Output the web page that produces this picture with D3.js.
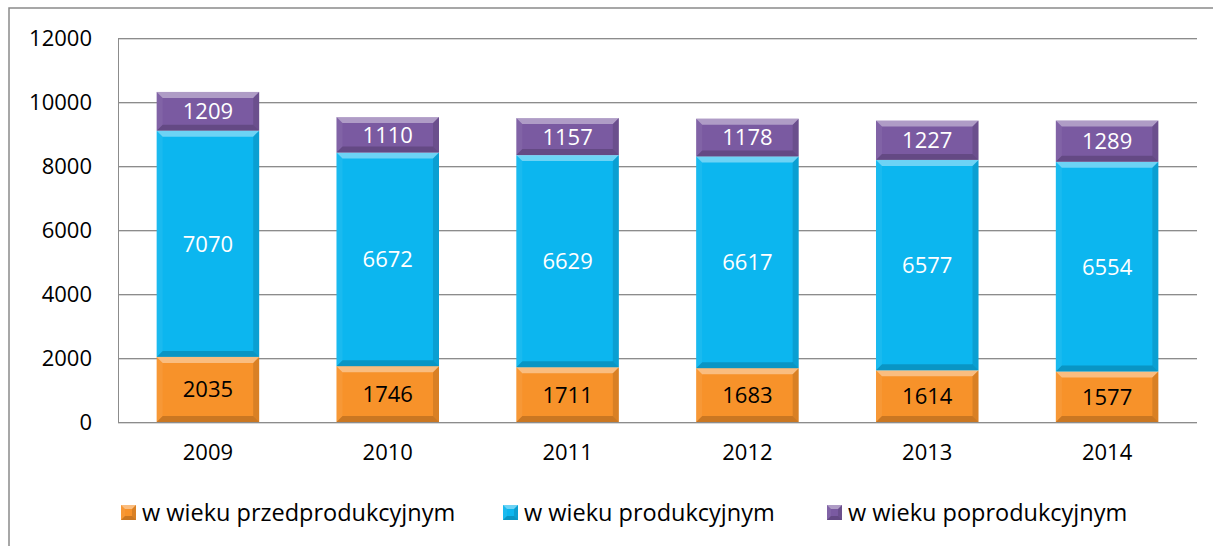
<!DOCTYPE html>
<html>
<head>
<meta charset="utf-8">
<script src="https://cdn.jsdelivr.net/npm/d3@7"></script>
<style>
  body { margin: 0; background: #fff; }
  text { font-family: "Open Sans", Lato, sans-serif; }
</style>
</head>
<body>
<div id="chart"></div>
<script>
var years = ['2009', '2010', '2011', '2012', '2013', '2014'];
var przedprod = [2035, 1746, 1711, 1683, 1614, 1577];
var prod = [7070, 6672, 6629, 6617, 6577, 6554];
var poprod = [1209, 1110, 1157, 1178, 1227, 1289];
var seriesNames = ['w wieku przedprodukcyjnym', 'w wieku produkcyjnym', 'w wieku poprodukcyjnym'];
var yTicks = [0, 2000, 4000, 6000, 8000, 10000, 12000];

var colors = ['#f7922a', '#0cb6ef', '#7a5aa1'];
var labelColors = ['#000', '#fff', '#fff'];
var legendX = [121, 503, 827];

// build rows for d3.stack
var keys = ['a', 'b', 'c'];
var rows = years.map(function (y, i) {
    return { year: y, a: przedprod[i], b: prod[i], c: poprod[i] };
});
var stacked = d3.stack().keys(keys)(rows);

var W = 1213, H = 546;
var margin = { top: 38, right: 16, bottom: 124, left: 118 },
    width = W - margin.left - margin.right,
    height = H - margin.top - margin.bottom;

var svg = d3.select('#chart').append('svg')
    .attr('width', W)
    .attr('height', H);

// outer chart border
svg.append('rect')
    .attr('x', 9).attr('y', 8)
    .attr('width', W + 10).attr('height', H + 10)
    .attr('fill', 'none')
    .attr('stroke', '#8a8a8a')
    .attr('stroke-width', 1.5);

var g = svg.append('g')
    .attr('transform', 'translate(' + margin.left + ',' + margin.top + ')');

var xScale = d3.scaleBand()
    .domain(years)
    .range([0, width])
    .paddingInner(0.43)
    .paddingOuter(0.215);

var yScale = d3.scaleLinear()
    .domain([0, 12000])
    .range([height, 0]);

// gridlines with a faint shadow line
yTicks.forEach(function (t) {
    var y = Math.round(yScale(t)) + 0.5;
    g.append('line')
        .attr('x1', 0).attr('x2', width)
        .attr('y1', y + 1).attr('y2', y + 1)
        .attr('stroke', '#d8d8d8');
    g.append('line')
        .attr('x1', 0).attr('x2', width)
        .attr('y1', y).attr('y2', y)
        .attr('stroke', '#8c8c8c');
});

// left axis line
g.append('line')
    .attr('x1', 0.5).attr('x2', 0.5)
    .attr('y1', 0).attr('y2', height)
    .attr('stroke', '#8c8c8c');

// y axis labels
var yAxis = d3.axisLeft(yScale).tickValues(yTicks).tickFormat(d3.format('d'))
    .tickSize(0).tickPadding(26);
var yg = g.append('g').call(yAxis);
yg.select('.domain').remove();
yg.selectAll('text')
    .attr('font-size', 22)
    .attr('fill', '#000')
    .style('font-family', '"Open Sans", sans-serif');

// x axis labels
var xAxis = d3.axisBottom(xScale).tickSize(0).tickPadding(22);
var xg = g.append('g')
    .attr('transform', 'translate(0,' + height + ')')
    .call(xAxis);
xg.select('.domain').remove();
xg.selectAll('text')
    .attr('font-size', 22)
    .attr('fill', '#000')
    .style('font-family', '"Open Sans", sans-serif');

// bevel effect like office charts
function bevel(sel, x, y, w, h, b) {
    var pts = [
        [[x, y], [x + w, y], [x + w - b, y + b], [x + b, y + b], '#fff', 0.4],
        [[x, y], [x + b, y + b], [x + b, y + h - b], [x, y + h], '#fff', 0.06],
        [[x + w, y], [x + w - b, y + b], [x + w - b, y + h - b], [x + w, y + h], '#000', 0.12],
        [[x, y + h], [x + w, y + h], [x + w - b, y + h - b], [x + b, y + h - b], '#000', 0.18]
    ];
    pts.forEach(function (p) {
        sel.append('polygon')
            .attr('points', p.slice(0, 4).map(function (q) { return q.join(','); }).join(' '))
            .attr('fill', p[4])
            .attr('fill-opacity', p[5]);
    });
}

stacked.forEach(function (layer, si) {
    var lg = g.append('g');
    layer.forEach(function (d) {
        var x = xScale(d.data.year),
            y0 = yScale(d[0]),
            y1 = yScale(d[1]),
            w = xScale.bandwidth(),
            h = y0 - y1;
        lg.append('rect')
            .attr('x', x).attr('y', y1)
            .attr('width', w).attr('height', h)
            .attr('fill', colors[si]);
        bevel(lg, x, y1, w, h, 6);
        lg.append('text')
            .attr('x', x + w / 2)
            .attr('y', (y0 + y1) / 2)
            .attr('dy', '0.36em')
            .attr('text-anchor', 'middle')
            .attr('font-size', 22)
            .attr('fill', labelColors[si])
            .text(d[1] - d[0]);
    });
});

// legend
var leg = svg.append('g');
seriesNames.forEach(function (name, i) {
    var lx = legendX[i], ly = 505;
    leg.append('rect')
        .attr('x', lx).attr('y', ly)
        .attr('width', 15).attr('height', 15)
        .attr('fill', colors[i]);
    bevel(leg, lx, ly, 15, 15, 4);
    leg.append('text')
        .attr('x', lx + 21)
        .attr('y', ly + 8)
        .attr('dy', '0.36em')
        .attr('font-size', 23.5)
        .attr('fill', '#000')
        .text(name);
});
</script>
</body>
</html>
